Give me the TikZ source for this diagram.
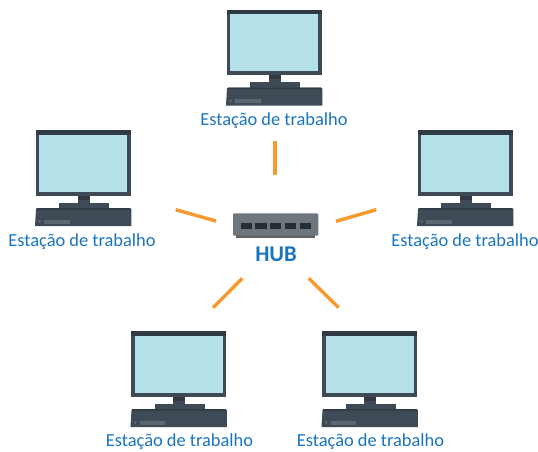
\documentclass[tikz,border=0pt]{standalone}
\usepackage{fontspec}
\setmainfont{Carlito}
\definecolor{frameC}{HTML}{3E4A55}
\definecolor{frameD}{HTML}{2F3A44}
\definecolor{screenC}{HTML}{B5E1EA}
\definecolor{slotC}{HTML}{5A6670}
\definecolor{textC}{HTML}{1B75BC}
\definecolor{linkC}{HTML}{F79A2E}
\definecolor{hubC}{HTML}{6F767C}
\definecolor{hubD}{HTML}{5C6369}
\definecolor{portC}{HTML}{232F38}
\tikzset{
  x=1pt,y=-1pt,
  link/.style={draw=linkC,line width=3.4pt},
  label/.style={text=textC,font=\fontsize{18.4}{22}\selectfont,inner sep=0pt,anchor=center},
  hubtext/.style={text=textC,font=\fontsize{22.5}{24}\selectfont\bfseries,inner sep=0pt,anchor=center},
  pics/station/.style={code={
    \fill[frameC] (-47.5,-0.5) rectangle (47.5,65);
    \fill[frameD] (-47.5,-0.5) rectangle (47.5,4);
    \fill[screenC] (-44,4) rectangle (44,61);
    \fill[frameC] (-5.5,65) rectangle (6.5,72.5);
    \fill[frameD] (-5.5,65) rectangle (6.5,69);
    \fill[frameC] (-24,72) rectangle (26,78);
    \fill[frameC] (-47,79) -- (-46,77.5) -- (47,77.5) -- (48.3,79) -- (48.3,95.5) -- (-48,95.5) -- cycle;
    \fill[frameD] (-47,79) -- (-46,77.5) -- (47,77.5) -- (48.3,79) -- cycle;
    \fill[slotC] (-39,89) rectangle (-13.3,93);
    \fill[slotC] (-43.3,91) circle (1.6);
  }}
}
\begin{document}
\begin{tikzpicture}
\useasboundingbox (0,0) rectangle (538,451);
\fill[white] (0,0) rectangle (538,451);
% stations
\pic at (274,10) {station};
\pic at (83,130.5) {station};
\pic at (465,130.5) {station};
\pic at (178.5,331.5) {station};
\pic at (369.5,331.5) {station};
% labels
\node[label] (lt) at (274,120.5) {Estação de trabalho};
\node[label] (ll) at (82,241.5) {Estação de trabalho};
\node[label] (lr) at (465,241.5) {Estação de trabalho};
\node[label] (lbl) at (179.5,441.5) {Estação de trabalho};
\node[label] (lbr) at (370.5,441.5) {Estação de trabalho};
% hub
\fill[hubD] (236,230) rectangle (315.3,237.7);
\fill[hubC,rounded corners=1pt] (233,213.3) rectangle (318.3,235.7);
\foreach \px in {240.7,255.3,270,285,299.7}
  \fill[portC] (\px,223.3) rectangle ++(11.3,5.7);
\node[hubtext] (hub) at (276,254.5) {HUB};
% connectors
\coordinate (t1) at (275,141); \coordinate (t2) at (275,175);
\coordinate (a1) at (175.7,209.7); \coordinate (a2) at (216,221);
\coordinate (b1) at (336,221.3); \coordinate (b2) at (376.3,209.7);
\coordinate (c1) at (242.3,278.3); \coordinate (c2) at (213,307.7);
\coordinate (d1) at (308.7,278.3); \coordinate (d2) at (338.7,307.7);
\draw[link] (t1) -- (t2);
\draw[link] (a1) -- (a2);
\draw[link] (b1) -- (b2);
\draw[link] (c1) -- (c2);
\draw[link] (d1) -- (d2);
\end{tikzpicture}
\end{document}
